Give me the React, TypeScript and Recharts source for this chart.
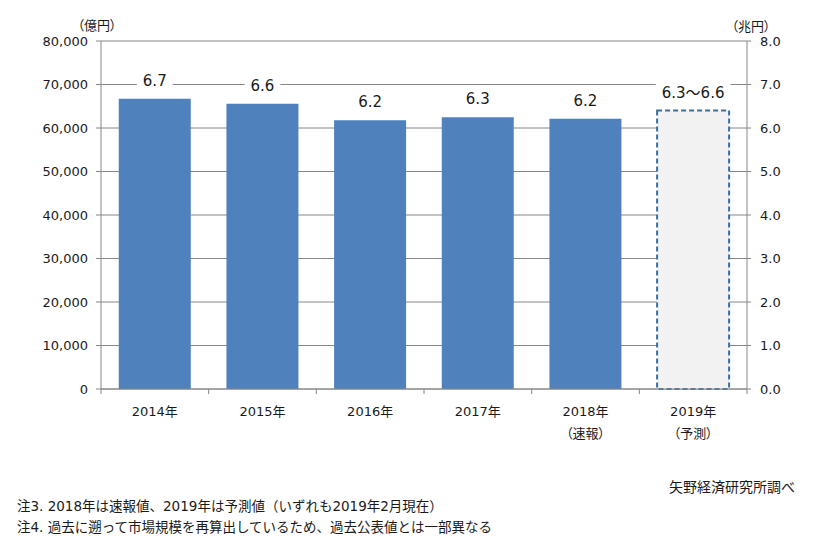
import React from 'react';
import { BarChart, Bar, XAxis, YAxis, CartesianGrid, Cell, LabelList } from 'recharts';

const years = ['2014年', '2015年', '2016年', '2017年', '2018年', '2019年'];
const subLabels = ['', '', '', '', '（速報）', '（予測）'];
const marketSize = [66700, 65600, 61800, 62500, 62100, 64000]; // 億円
const barLabels = ['6.7', '6.6', '6.2', '6.3', '6.2', '6.3～6.6'];
const isForecast = [false, false, false, false, false, true];
const leftTicks = [0, 10000, 20000, 30000, 40000, 50000, 60000, 70000, 80000];
const rightTicks = [0, 1, 2, 3, 4, 5, 6, 7, 8];
const leftUnit = '（億円）';
const rightUnit = '（兆円）';
const source = '矢野経済研究所調べ';
const notes = [
  '注3. 2018年は速報値、2019年は予測値（いずれも2019年2月現在）',
  '注4. 過去に遡って市場規模を再算出しているため、過去公表値とは一部異なる',
];

const data = years.map((y, i) => ({
  year: y,
  sub: subLabels[i],
  value: marketSize[i],
  label: barLabels[i],
  forecast: isForecast[i],
}));

const FONT = '"DejaVu Sans", "Noto Sans CJK JP", sans-serif';
const GRAY = '#868686';
const BLUE = '#4F81BD';
const TEXT = '#1a1a1a';

function textWidth(s: string, size: number) {
  let w = 0;
  for (const ch of s) {
    if (/[0-9]/.test(ch)) w += 0.636 * size;
    else if (ch === '.' || ch === ',') w += 0.318 * size;
    else w += 1.0 * size;
  }
  return w;
}

const XTick = (props: any) => {
  const { x, y, payload, index } = props;
  const half = payload && payload.offset ? payload.offset : 53.8;
  const sub = subLabels[index] || '';
  const last = index === years.length - 1;
  return (
    <g>
      <line x1={x - half} y1={y} x2={x - half} y2={y + 5} stroke={GRAY} strokeWidth={1} />
      {last && <line x1={x + half} y1={y} x2={x + half} y2={y + 5} stroke={GRAY} strokeWidth={1} />}
      <text x={x} y={y + 22} dy="0.35em" textAnchor="middle" fontSize={13} fill={TEXT} fontFamily={FONT}>
        {payload.value}
      </text>
      {sub && (
        <text
          x={x}
          y={y + 44}
          dy="0.35em"
          textAnchor="middle"
          fontSize={13}
          fill={TEXT}
          fontFamily={FONT}
          style={{ fontFeatureSettings: '"palt"' }}
        >
          {sub}
        </text>
      )}
    </g>
  );
};

const BarLabel = (props: any) => {
  const { x, y, width, index } = props;
  const value = barLabels[index];
  const cx = Number(x) + Number(width) / 2;
  const cy = Number(y) - 18;
  const w = textWidth(value, 15) + 12;
  return (
    <g>
      <rect x={cx - w / 2} y={cy - 10} width={w} height={20} fill="#ffffff" />
      <text x={cx} y={cy} dy="0.35em" textAnchor="middle" fontSize={15} fill={TEXT} fontFamily={FONT}>
        {value}
      </text>
    </g>
  );
};

export default function App() {
  return (
    <div
      style={{
        position: 'absolute',
        left: 0,
        top: 0,
        width: 830,
        height: 554,
        background: '#ffffff',
        fontFamily: FONT,
        color: TEXT,
      }}
    >
      <BarChart
        width={830}
        height={554}
        data={data}
        margin={{ top: 41, right: 0, bottom: 0, left: 0 }}
        barCategoryGap="16.5%"
      >
        <CartesianGrid vertical={false} stroke={GRAY} yAxisId="left" />
        <XAxis
          dataKey="year"
          axisLine={{ stroke: GRAY }}
          tickLine={false}
          tickSize={0}
          tickMargin={0}
          tick={<XTick />}
          interval={0}
          height={165}
        />
        <YAxis
          yAxisId="left"
          orientation="left"
          width={101}
          domain={[0, 80000]}
          ticks={leftTicks}
          interval={0}
          axisLine={{ stroke: GRAY }}
          tickLine={{ stroke: GRAY }}
          tickSize={5}
          tickMargin={8}
          tick={{ fontSize: 13, fill: TEXT, fontFamily: FONT }}
          tickFormatter={(v: number) => v.toLocaleString('en-US')}
        />
        <YAxis
          yAxisId="right"
          orientation="right"
          width={83}
          domain={[0, 8]}
          ticks={rightTicks}
          interval={0}
          allowDataOverflow
          axisLine={{ stroke: GRAY }}
          tickLine={{ stroke: GRAY }}
          tickSize={4}
          tickMargin={9}
          tick={{ fontSize: 13, fill: TEXT, fontFamily: FONT, textAnchor: 'start' }}
          tickFormatter={(v: number) => v.toFixed(1)}
        />
        <Bar dataKey="value" yAxisId="left" isAnimationActive={false}>
          {data.map((d, i) => (
            <Cell
              key={i}
              fill={d.forecast ? '#F2F2F2' : BLUE}
              stroke={d.forecast ? '#3A6EA5' : 'none'}
              strokeWidth={d.forecast ? 2 : 0}
              strokeDasharray={d.forecast ? '5 3' : undefined}
            />
          ))}
          <LabelList dataKey="label" content={<BarLabel />} />
        </Bar>
      </BarChart>
      <div
        style={{
          position: 'absolute',
          left: 97,
          top: 24,
          transform: 'translate(-50%, -50%)',
          fontSize: 13,
          fontFeatureSettings: '"palt"',
          whiteSpace: 'nowrap',
        }}
      >
        {leftUnit}
      </div>
      <div
        style={{
          position: 'absolute',
          left: 751,
          top: 25,
          transform: 'translate(-50%, -50%)',
          fontSize: 13,
          fontFeatureSettings: '"palt"',
          whiteSpace: 'nowrap',
        }}
      >
        {rightUnit}
      </div>
      <div
        style={{
          position: 'absolute',
          right: 830 - 795,
          top: 486,
          transform: 'translateY(-50%)',
          fontSize: 14,
          whiteSpace: 'nowrap',
        }}
      >
        {source}
      </div>
      {notes.map((n, i) => (
        <div
          key={i}
          style={{
            position: 'absolute',
            left: 17,
            top: 505 + i * 21,
            transform: 'translateY(-50%)',
            fontSize: 13.5,
            whiteSpace: 'nowrap',
          }}
        >
          {n}
        </div>
      ))}
    </div>
  );
}
